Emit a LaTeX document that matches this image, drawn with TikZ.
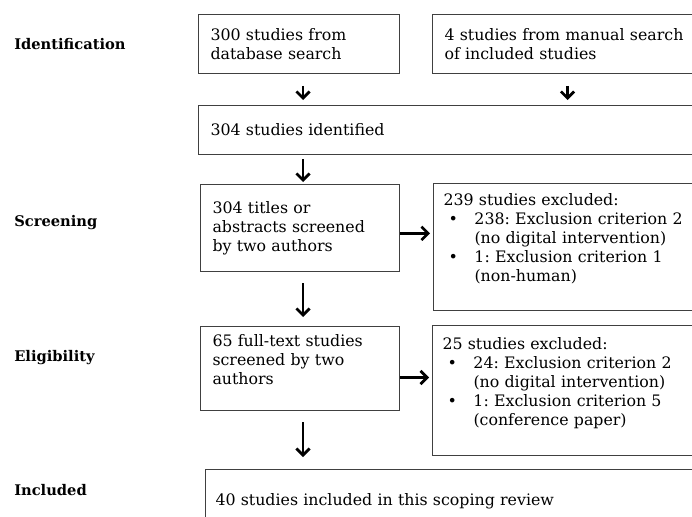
\documentclass[tikz,border=0pt]{standalone}
\usepackage{fontspec}
\setmainfont{DejaVu Serif}
\frenchspacing
\usetikzlibrary{arrows.meta,positioning}
\newcommand{\exclbullet}{\makebox[23.25pt][l]{\hspace{3.75pt}\textbullet}}
\newcommand{\exclindent}{\hspace*{23.25pt}}

\begin{document}
\begin{tikzpicture}[
  x=0.75pt, y=-0.75pt,
  flowbox/.style={draw=black!75, line width=0.75pt, anchor=north west, align=left, inner xsep=9pt, inner ysep=0pt, font=\fontsize{11.85}{14.25}\selectfont},
  exclbox/.style={flowbox, inner xsep=7.5pt, text width=187.5pt},
  stagelbl/.style={anchor=west, inner sep=0pt, font=\fontsize{11}{13}\selectfont\bfseries},
  arr/.style={-{Straight Barb[length=5pt, width=10pt]}, line width=2pt}]
  \useasboundingbox (0,0) rectangle (692,517);
  \clip (0,0) rectangle (692,517);
  % stage labels down the left side
  \node[stagelbl] (lblid) at (14,44) {Identification};
  \node[stagelbl] (lblscr) at (14,223) {Screening};
  \node[stagelbl] (lblelig) at (14,358) {Eligibility};
  \node[stagelbl] (lblincl) at (14,490) {Included};
  % the down arrows share one column
  \coordinate (col) at (303,0);
  % Identification
  \node[flowbox, text width=132.75pt, minimum height=44.25pt] (dbsearch) at (198,14) {300 studies from\\database search};
  \node[flowbox, text width=184.5pt, minimum height=44.25pt] (manual) at (432,14) {4 studies from manual search\\of included studies};
  \node[flowbox, text width=358.5pt, minimum height=36.75pt] (ident) at (198,105) {304 studies identified};
  \draw[arr, shorten <=9pt, shorten >=3.75pt] (dbsearch.south -| col) -- (ident.north -| col);
  \draw[arr, shorten <=9pt, shorten >=3.75pt] (manual.south) -- (ident.north -| manual.south);
  % Screening
  \node[flowbox, text width=131.25pt, minimum height=65.25pt] (titles) at (200,184) {304 titles or\\abstracts screened\\by two authors};
  \draw[arr, shorten <=3pt, shorten >=1.5pt] (ident.south -| col) -- (titles.north -| col);
  \node[exclbox, minimum height=95.25pt] (excl1) at (433,183) {239 studies excluded:\\
    \exclbullet 238: Exclusion criterion 2\\
    \exclindent(no digital intervention)\\
    \exclbullet 1: Exclusion criterion 1\\
    \exclindent(non-human)\\
    \mbox{}};
  \draw[arr, shorten >=2.25pt] ([yshift=-4pt]titles.east) -- ([yshift=-4pt]titles.east -| excl1.west);
  % Eligibility
  \node[flowbox, text width=131.25pt, minimum height=63pt] (fulltext) at (200,326) {65 full-text studies\\screened by two\\authors\\\mbox{}};
  \draw[arr, shorten <=8.25pt, shorten >=6.75pt] (titles.south -| col) -- (fulltext.north -| col);
  \node[exclbox, minimum height=97.5pt] (excl2) at (432,325) {25 studies excluded:\\
    \exclbullet 24: Exclusion criterion 2\\
    \exclindent(no digital intervention)\\
    \exclbullet 1: Exclusion criterion 5\\
    \exclindent(conference paper)\\
    \mbox{}};
  \draw[arr, shorten >=2.25pt] ([yshift=-6.75pt]fulltext.east) -- ([yshift=-6.75pt]fulltext.east -| excl2.west);
  % Included
  \node[flowbox, inner xsep=7.5pt, text width=363pt, minimum height=48pt] (incl) at (205,469) {40 studies included in this scoping review};
  \draw[arr, shorten <=8.25pt, shorten >=9pt] (fulltext.south -| col) -- (incl.north -| col);
\end{tikzpicture}
\end{document}
